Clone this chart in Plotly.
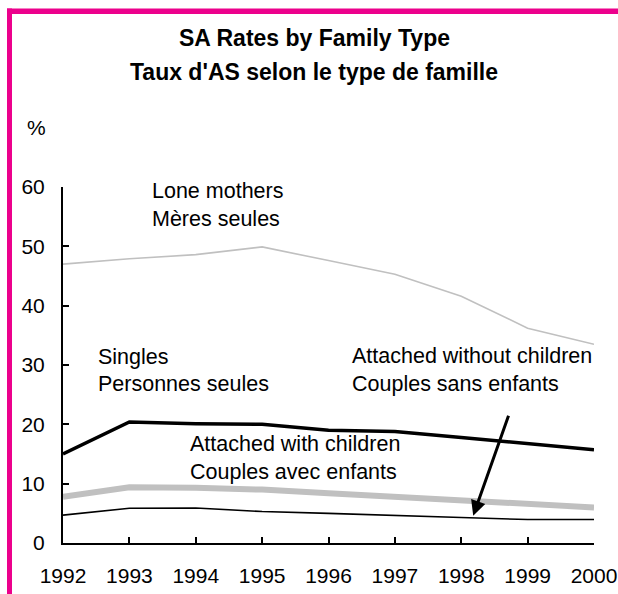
import plotly.graph_objects as go

years = [1992, 1993, 1994, 1995, 1996, 1997, 1998, 1999, 2000]
lone_mothers = [47.0, 47.9, 48.6, 49.9, 47.6, 45.3, 41.6, 36.2, 33.5]
singles = [15.0, 20.4, 20.1, 20.0, 19.0, 18.8, 17.8, 16.7, 15.7]
with_children = [7.8, 9.4, 9.3, 9.0, 8.4, 7.8, 7.1, 6.5, 6.0]
without_children = [4.7, 5.85, 5.9, 5.3, 5.0, 4.7, 4.3, 3.95, 3.95]

W, H = 618, 594
L, R, T, B = 63, 24, 187, 51
PW, PH = W - L - R, H - T - B
FONT = "Liberation Sans, Arial, sans-serif"
PINK = "#EC008C"
LABEL_SIZE = 21.5
TICK_SIZE = 21
TITLE_SIZE = 23


def px(x):
    return (x - L) / PW


def py(y):
    return (H - B - y) / PH


fig = go.Figure()
fig.add_trace(go.Scatter(x=years, y=lone_mothers, mode="lines",
                         line=dict(color="#c0c0c0", width=1.6), name="Lone mothers"))
fig.add_trace(go.Scatter(x=years, y=singles, mode="lines",
                         line=dict(color="#000000", width=3.5), name="Singles"))
fig.add_trace(go.Scatter(x=years, y=with_children, mode="lines",
                         line=dict(color="#c0c0c0", width=6), name="Attached with children"))
fig.add_trace(go.Scatter(x=years, y=without_children, mode="lines",
                         line=dict(color="#000000", width=1.6), name="Attached without children"))

ann = []
# titles
ann.append(dict(text="<b>SA Rates by Family Type</b>", x=px(314), y=py(38), xref="paper", yref="paper",
                xanchor="center", yanchor="middle", showarrow=False,
                font=dict(size=TITLE_SIZE, color="#000", family=FONT)))
ann.append(dict(text="<b>Taux d'AS selon le type de famille</b>", x=px(314), y=py(72), xref="paper", yref="paper",
                xanchor="center", yanchor="middle", showarrow=False,
                font=dict(size=TITLE_SIZE, color="#000", family=FONT)))
ann.append(dict(text="%", x=px(36), y=py(127), xref="paper", yref="paper",
                xanchor="center", yanchor="middle", showarrow=False,
                font=dict(size=TICK_SIZE, color="#000", family=FONT)))

labels = [
    ("Lone mothers", 151, 191.5),
    ("Mères seules", 151, 219),
    ("Singles", 97, 356.5),
    ("Personnes seules", 97, 384),
    ("Attached without children", 350.5, 356),
    ("Couples sans enfants", 350.5, 384),
    ("Attached with children", 188.5, 444),
    ("Couples avec enfants", 188.5, 472),
]
for t, x, y in labels:
    ann.append(dict(text=t, x=px(x), y=py(y), xref="paper", yref="paper", xanchor="left", yanchor="middle",
                    showarrow=False, borderpad=0, font=dict(size=LABEL_SIZE, color="#000", family=FONT)))

# arrow pointing to "Attached without children" line
ann.append(dict(text="", x=1998.18, y=4.6, xref="x", yref="y", ax=1998.72, ay=21.7, axref="x", ayref="y",
                showarrow=True, arrowhead=2, arrowsize=1.0, arrowwidth=3, arrowcolor="#000"))

shapes = [
    dict(type="rect", xref="paper", yref="paper", x0=px(7), x1=px(620), y0=py(14), y1=py(8.5),
         fillcolor=PINK, line=dict(width=0), layer="above"),
    dict(type="rect", xref="paper", yref="paper", x0=px(7), x1=px(12), y0=py(600), y1=py(8.5),
         fillcolor=PINK, line=dict(width=0), layer="above"),
]

fig.update_layout(
    width=W, height=H, margin=dict(l=L, r=R, t=T, b=B, autoexpand=False),
    paper_bgcolor="white", plot_bgcolor="white", showlegend=False,
    annotations=ann, shapes=shapes,
    font=dict(family=FONT, size=TICK_SIZE, color="#000"),
)
fig.update_xaxes(range=[1992, 2000], tickmode="array", tickvals=years, ticktext=[str(y) for y in years],
                 showgrid=False, zeroline=False, showline=True, linecolor="#000", linewidth=2,
                 ticks="inside", ticklen=6, tickwidth=1.5, tickcolor="#000", ticklabelstandoff=13,
                 tickfont=dict(size=TICK_SIZE, family=FONT, color="#000"))
fig.update_yaxes(range=[0, 60], tickmode="array", tickvals=[0, 10, 20, 30, 40, 50, 60],
                 showgrid=False, zeroline=False, showline=True, linecolor="#000", linewidth=2,
                 ticks="inside", ticklen=6, tickwidth=1.5, tickcolor="#000", ticklabelstandoff=12,
                 tickfont=dict(size=TICK_SIZE, family=FONT, color="#000"))

fig.write_html("out.html", config={"displayModeBar": False},
               post_script="document.body.style.margin='0';document.body.style.padding='0';"
                           "document.documentElement.style.overflow='hidden';")
